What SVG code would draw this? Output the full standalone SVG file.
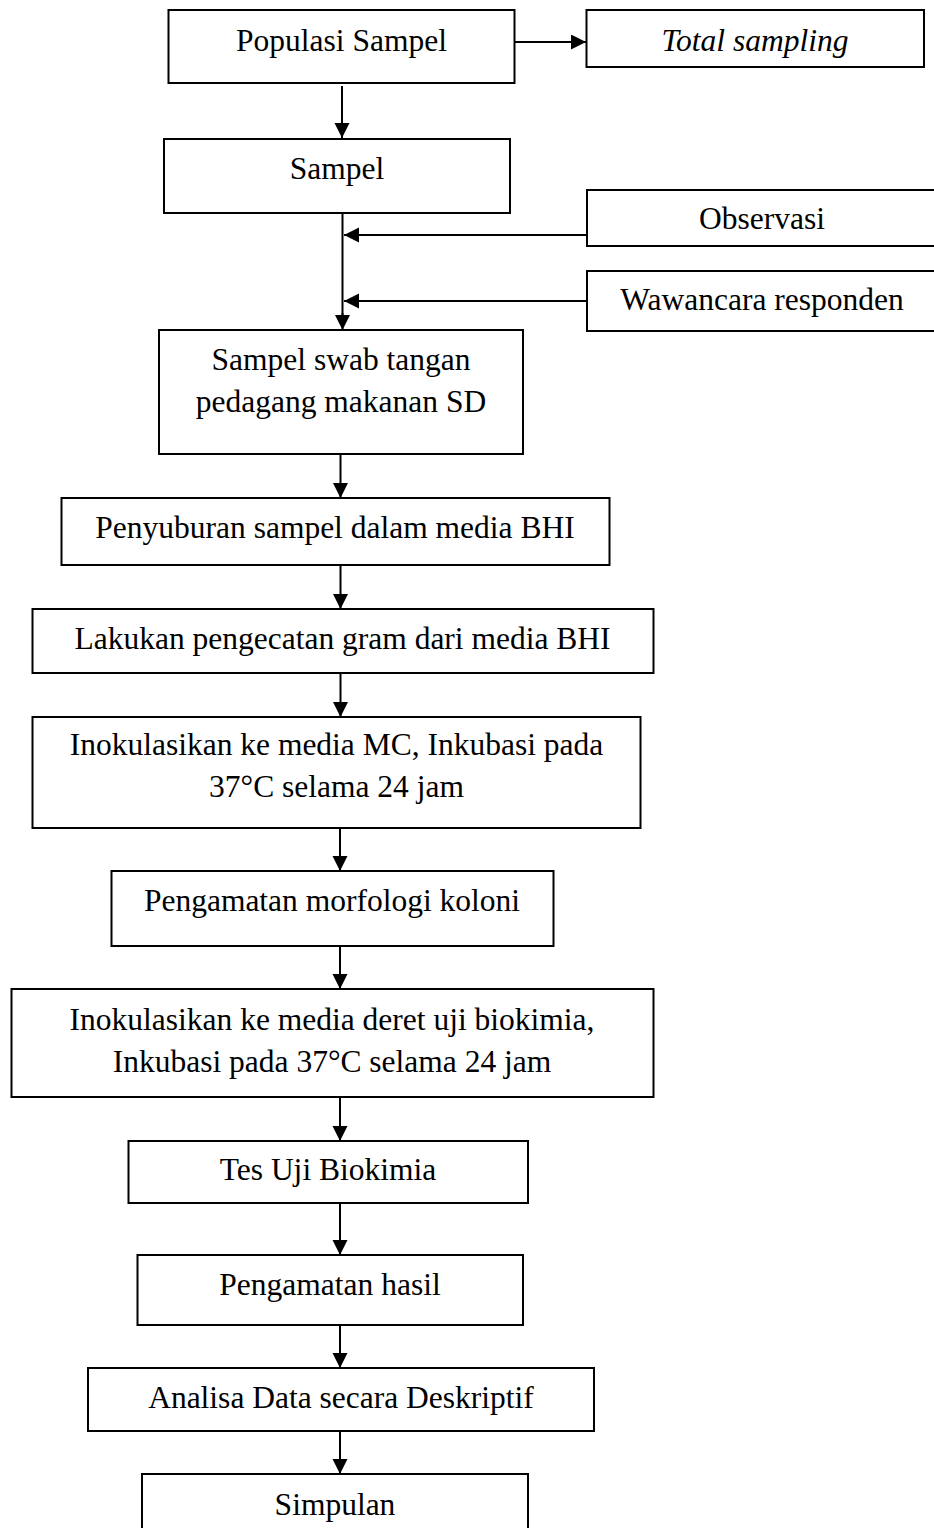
<svg xmlns="http://www.w3.org/2000/svg" width="934" height="1528" viewBox="0 0 934 1528">
<style>
.box{fill:#fff;stroke:#000;stroke-width:2}
.t{font-family:"Liberation Serif","Times New Roman",serif;font-size:31.5px;fill:#000;text-anchor:middle}
.i{font-style:italic}
.c{stroke:#000;stroke-width:2;fill:none;marker-end:url(#ah)}
</style>
<defs>
<marker id="ah" markerUnits="userSpaceOnUse" markerWidth="16" markerHeight="16" refX="15" refY="7.5" orient="auto">
<path d="M0,0 L15,7.5 L0,15 Z" fill="#000"/>
</marker>
</defs>
<rect width="934" height="1528" fill="#fff"/>
<g id="connectors">
<line class="c" x1="514" y1="42" x2="586" y2="42"/>
<line class="c" x1="342" y1="86" x2="342" y2="138"/>
<line x1="342.5" y1="213" x2="342.5" y2="316" stroke="#000" stroke-width="2"/>
<line class="c" x1="342.5" y1="313" x2="342.5" y2="330"/>
<line class="c" x1="587" y1="235" x2="344" y2="235"/>
<line class="c" x1="587" y1="301" x2="344" y2="301"/>
<line class="c" x1="340.5" y1="454" x2="340.5" y2="498"/>
<line class="c" x1="340.5" y1="565" x2="340.5" y2="609"/>
<line class="c" x1="340.5" y1="673" x2="340.5" y2="717"/>
<line class="c" x1="340" y1="828" x2="340" y2="871"/>
<line class="c" x1="340" y1="946" x2="340" y2="989"/>
<line class="c" x1="340" y1="1097" x2="340" y2="1141"/>
<line class="c" x1="340" y1="1203" x2="340" y2="1255"/>
<line class="c" x1="340" y1="1325" x2="340" y2="1368"/>
<line class="c" x1="340" y1="1431" x2="340" y2="1474"/>
</g>
<g id="populasi"><rect class="box" x="168.5" y="10" width="346" height="73"/><text class="t" x="341.5" y="50.5">Populasi Sampel</text></g>
<g id="total"><rect class="box" x="586.5" y="10" width="337.5" height="57"/><text class="t i" x="755" y="50.5">Total sampling</text></g>
<g id="sampel"><rect class="box" x="164" y="139" width="346" height="74"/><text class="t" x="337" y="179">Sampel</text></g>
<g id="observasi"><rect class="box" x="587" y="190" width="350" height="56"/><text class="t" x="762" y="229">Observasi</text></g>
<g id="wawancara"><rect class="box" x="587" y="271" width="350" height="60"/><text class="t" x="762" y="310">Wawancara responden</text></g>
<g id="swab"><rect class="box" x="159" y="330" width="364" height="124"/><text class="t" x="341" y="370">Sampel swab tangan</text><text class="t" x="341" y="412">pedagang makanan SD</text></g>
<g id="penyuburan"><rect class="box" x="61.5" y="498" width="548" height="67"/><text class="t" x="335" y="538">Penyuburan sampel dalam media BHI</text></g>
<g id="lakukan"><rect class="box" x="32.5" y="609" width="621" height="64"/><text class="t" x="342.5" y="649">Lakukan pengecatan gram dari media BHI</text></g>
<g id="inokulasi-mc"><rect class="box" x="32.5" y="717" width="608" height="111"/><text class="t" x="336.5" y="755">Inokulasikan ke media MC, Inkubasi pada</text><text class="t" x="336.5" y="797">37°C selama 24 jam</text></g>
<g id="morfologi"><rect class="box" x="111.5" y="871" width="442" height="75"/><text class="t" x="332" y="911">Pengamatan morfologi koloni</text></g>
<g id="inokulasi-biokimia"><rect class="box" x="11.5" y="989" width="642" height="108"/><text class="t" x="332" y="1030">Inokulasikan ke media deret uji biokimia,</text><text class="t" x="332" y="1072">Inkubasi pada 37°C selama 24 jam</text></g>
<g id="tes"><rect class="box" x="128.5" y="1141" width="399.5" height="62"/><text class="t" x="328" y="1180">Tes Uji Biokimia</text></g>
<g id="hasil"><rect class="box" x="137.5" y="1255" width="385.5" height="70"/><text class="t" x="330" y="1295">Pengamatan hasil</text></g>
<g id="analisa"><rect class="box" x="88" y="1368" width="506" height="63"/><text class="t" x="341" y="1408">Analisa Data secara Deskriptif</text></g>
<g id="simpulan"><rect class="box" x="142" y="1474" width="386" height="70"/><text class="t" x="335" y="1515">Simpulan</text></g>
</svg>
